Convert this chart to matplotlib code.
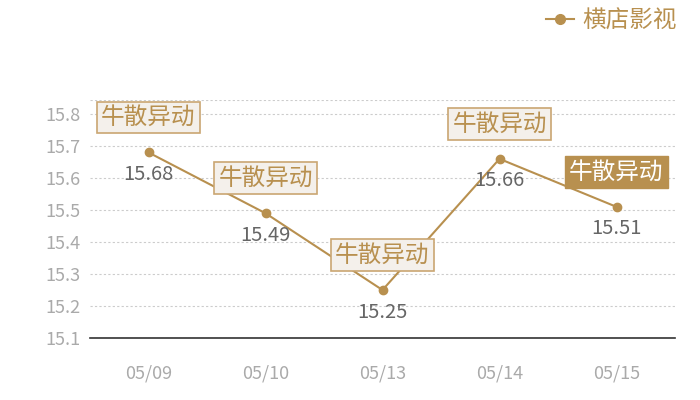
import matplotlib
matplotlib.use("Agg")
import matplotlib.pyplot as plt
from matplotlib.lines import Line2D

plt.rcParams['font.family'] = ['Noto Sans CJK SC', 'DejaVu Sans']

dates = ["05/09", "05/10", "05/13", "05/14", "05/15"]
values = [15.68, 15.49, 15.25, 15.66, 15.51]
series_name = "横店影视"
tag_text = "牛散异动"
highlight = [False, False, False, False, True]
yticks = [15.1, 15.2, 15.3, 15.4, 15.5, 15.6, 15.7, 15.8]

gold = "#b8904f"
fig = plt.figure(figsize=(7, 4), dpi=100)
ax = fig.add_axes([90/700, 62/400, 585/700, 238/400])
x = list(range(len(dates)))
ax.plot(x, values, color=gold, lw=1.5, marker='o', ms=6, zorder=3)
ax.set_xlim(-0.5, len(dates) - 0.5)
ax.set_ylim(15.1, 15.844)
ax.set_yticks(yticks)
ax.set_yticklabels([f"{v:.1f}" for v in yticks])
ax.set_xticks(x)
ax.set_xticklabels(dates)
ax.tick_params(axis='both', length=0, colors="#aaaaaa", labelsize=13)
ax.tick_params(axis='x', pad=19)
ax.tick_params(axis='y', pad=6.5)
for s in ["top", "right", "left"]:
    ax.spines[s].set_visible(False)
ax.spines["bottom"].set_color("#333333")
ax.spines["bottom"].set_linewidth(1.2)
ax.grid(axis='y', color="#cccccc", linestyle=(0, (2, 2)), lw=0.8)
ax.axhline(15.844, color="#cccccc", linestyle=(0, (2, 2)), lw=0.8)
ax.set_axisbelow(True)

for xi, v, hl in zip(x, values, highlight):
    ax.annotate(f"{v:.2f}", (xi, v), xytext=(0, -22), textcoords='offset pixels',
                ha='center', va='center', fontsize=14.5, color="#666666")
    if hl:
        bbox = dict(boxstyle="square,pad=0.18", fc=gold, ec=gold, lw=1)
        tc = "white"
    else:
        bbox = dict(boxstyle="square,pad=0.18", fc="#f4f0eb", ec="#caa672", lw=1.2)
        tc = gold
    ax.annotate(tag_text, (xi, v), xytext=(0, 35), textcoords='offset pixels',
                ha='center', va='center', fontsize=17, color=tc, bbox=bbox, zorder=4)

handle = Line2D([], [], color=gold, marker='o', ms=7, lw=1.5)
fig.legend([handle], [series_name], loc='upper right', bbox_to_anchor=(0.997, 1.03),
           frameon=False, fontsize=17, labelcolor=gold, handlelength=1.2,
           handletextpad=0.35)

fig.savefig("out.png", dpi=100)
